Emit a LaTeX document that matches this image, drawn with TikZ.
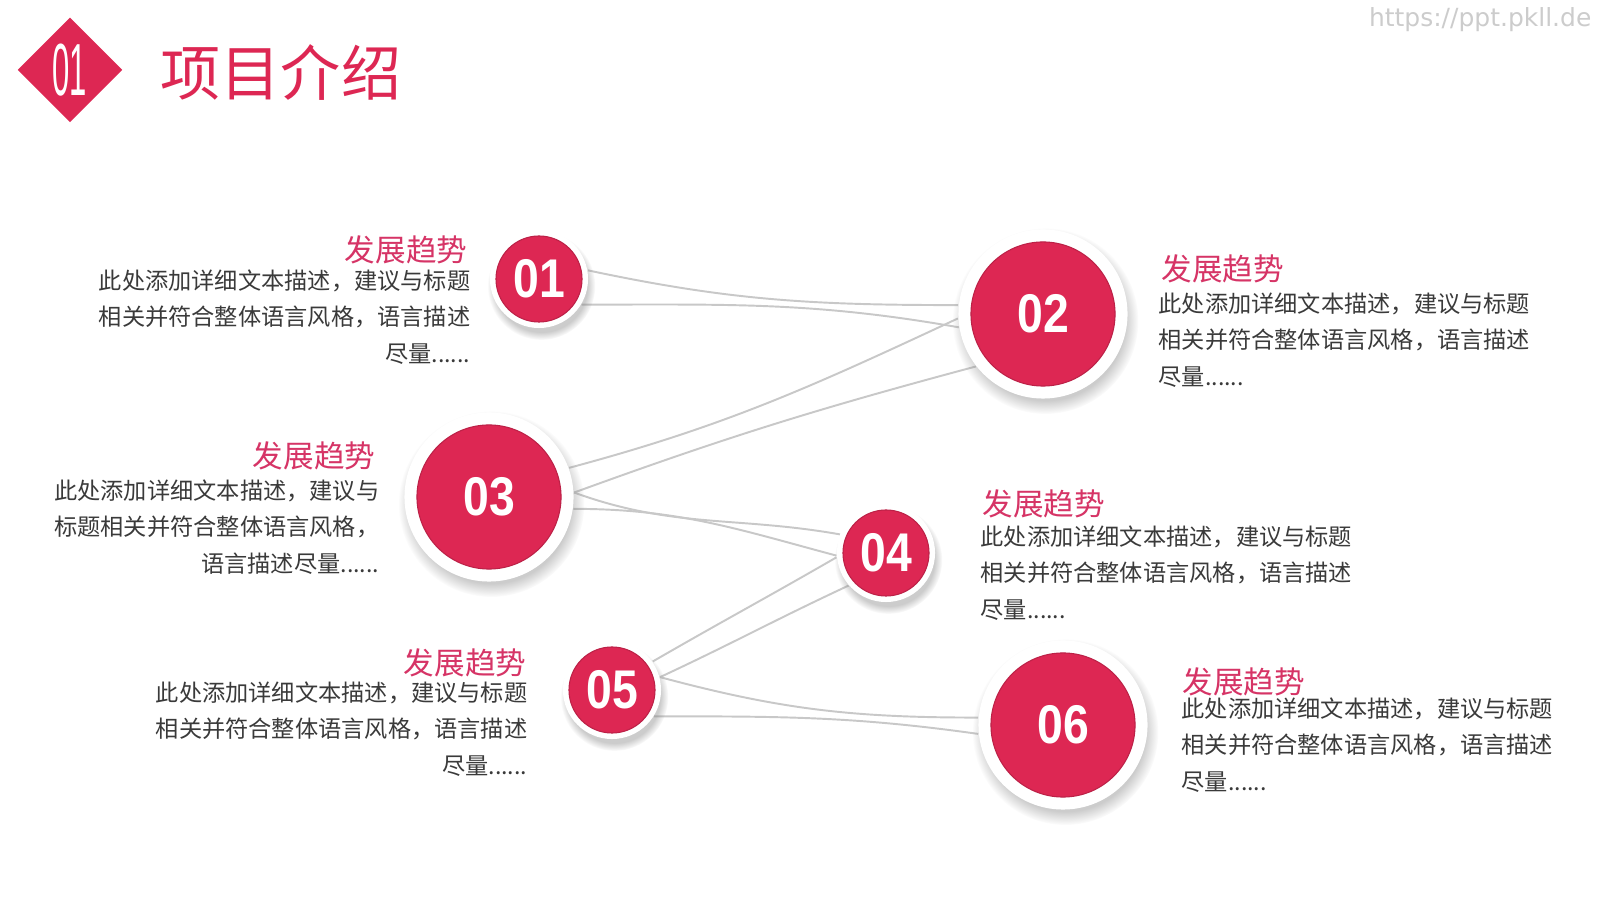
\documentclass[tikz,border=0pt]{standalone}
\usepackage{fontspec}
\setmainfont{Liberation Sans}
\newfontfamily\cjk{Noto Sans CJK SC}
\newfontfamily\wmfont{DejaVu Sans}
\usetikzlibrary{shapes.geometric,shadows,backgrounds,positioning}
\definecolor{rose}{RGB}{221,39,83}
\definecolor{rosetitle}{RGB}{214,52,102}
\definecolor{bodytext}{RGB}{58,58,58}
\definecolor{wire}{RGB}{200,200,200}
\tikzset{
  ring/.style={
    shape = circle,
    inner sep = 0pt,
    minimum size = #1,
    fill = white,
    circular drop shadow = {shadow xshift=0.6pt, shadow yshift=-1.8pt, shadow scale=1.1, opacity=0.4}
  },
  disc/.style={
    shape = circle,
    inner sep = 0pt,
    minimum size = #1,
    fill = rose,
    draw = rose!85!black,
    line width = 0.3pt,
    text = white,
    font = \bfseries\fontsize{15.5}{15.5}\selectfont
  },
  link/.style={
    draw = wire,
    line width = 0.55pt
  },
}
\tikzset{
  head/.style={
    inner sep = 0pt,
    text = rosetitle,
    font = \cjk\fontsize{8.7}{8.7}\selectfont
  },
  body/.style={
    inner sep = 0pt,
    text = bodytext,
    font = \cjk\fontsize{6.6}{10.4}\selectfont
  },
}
\begin{document}
\begin{tikzpicture}[x=0.01cm,y=0.01cm]
\useasboundingbox (0,0) rectangle (1600,900);
% header
\node[diamond, fill=rose, inner sep=0pt, minimum width=1.05cm, minimum height=1.05cm] (mark) at (70,830) {};
\node[text=white, inner sep=0pt, font=\fontsize{21}{21}\selectfont] (marknum) at (mark) {\scalebox{0.42}[1]{01}};
\node[anchor=west, inner sep=0pt, text=rose, font=\cjk\fontsize{17.1}{17.1}\selectfont] (title) at (160,827) {项目介绍};
\node[anchor=east, inner sep=0pt, text=black!20, font=\wmfont\fontsize{7.1}{7.1}\selectfont] (wm) at (1592,880) {https://ppt.pkll.de};
% circles
\foreach \n/\x/\y/\r/\d in {01/539/621/0.98cm/0.86cm, 02/1043/586/1.69cm/1.44cm, 03/489/403/1.69cm/1.44cm,
                            04/886/347/0.98cm/0.86cm, 05/612/210/0.98cm/0.86cm, 06/1063/175/1.69cm/1.44cm}{
  \node[ring=\r] (c\n) at (\x,\y) {};
  \node[disc=\d] (d\n) at (c\n) {\scalebox{0.85}[1]{\n}};
}
% links
\begin{scope}[on background layer]
\fill[white] (0,0) rectangle (1600,900);
  \foreach \a/\b/\o/\i in {c01.10/c02.174/-12/180, c01.-31/c02.189/0/170, c03.20/c02.183/15/205,
                          c03.3/c02.218/20/195, c03.3/c04.158/-20/170, c03.-8/c04.183/0/165,
                          c04.185/c05.35/210/30, c04.221/c05.15/205/25, c05.15/c06.175/-15/180,
                          c05.-32/c06.186/0/172}{
    \draw[link] (\a) to[out=\o, in=\i] (\b); }
\end{scope}
% texts
\node[head, anchor=east] (h01) at (468,650) {发展趋势};
\node[body, anchor=north east, align=right] (t01) at (471,631) {此处添加详细文本描述，建议与标题\\相关并符合整体语言风格，语言描述\\尽量......};
\node[head, anchor=west] (h02) at (1161,631) {发展趋势};
\node[body, anchor=north west, align=left] (t02) at (1158,608) {此处添加详细文本描述，建议与标题\\相关并符合整体语言风格，语言描述\\尽量......};
\node[head, anchor=east] (h03) at (376,444) {发展趋势};
\node[body, anchor=north east, align=right] (t03) at (380,421) {此处添加详细文本描述，建议与\\标题相关并符合整体语言风格，\\语言描述尽量......};
\node[head, anchor=west] (h04) at (982,396) {发展趋势};
\node[body, anchor=north west, align=left] (t04) at (980,375) {此处添加详细文本描述，建议与标题\\相关并符合整体语言风格，语言描述\\尽量......};
\node[head, anchor=east] (h05) at (527,237) {发展趋势};
\node[body, anchor=north east, align=right] (t05) at (528,219) {此处添加详细文本描述，建议与标题\\相关并符合整体语言风格，语言描述\\尽量......};
\node[head, anchor=west] (h06) at (1182,218) {发展趋势};
\node[body, anchor=north west, align=left] (t06) at (1181,203) {此处添加详细文本描述，建议与标题\\相关并符合整体语言风格，语言描述\\尽量......};
\end{tikzpicture}
\end{document}
